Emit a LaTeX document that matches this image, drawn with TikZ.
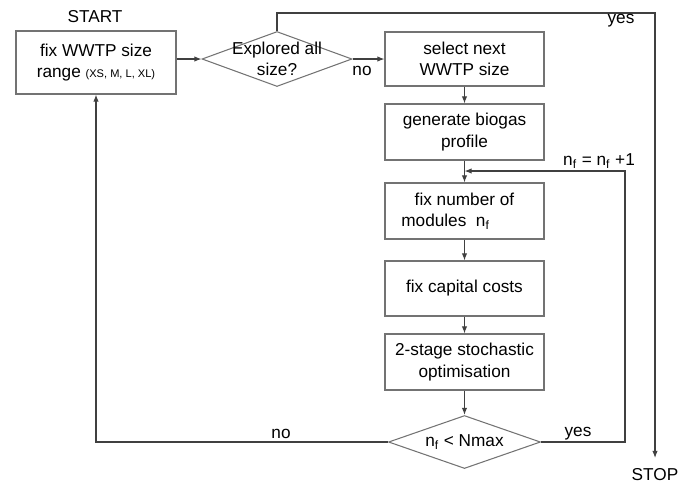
\documentclass[tikz,border=0pt]{standalone}
\usepackage{fontspec}
\setmainfont{Liberation Sans}
\usetikzlibrary{arrows.meta,shapes.geometric}
\tikzset{
	stage/.style={draw=black!55, line width=0.6pt, minimum width=3.18cm, minimum height=1.12cm, align=center, inner sep=2pt},
	check/.style={draw=black!55, line width=0.6pt, shape=diamond, aspect=2.8, inner sep=-5pt, minimum width=3.04cm, minimum height=1.06cm, align=center},
	flow/.style={draw=black!75, line width=0.6pt, -{Latex[length=4pt,width=3pt]}},
	tag/.style={inner sep=1pt}
}
\def\nf{n\textsubscript{f}}

\begin{document}
\begin{tikzpicture}[x=0.02cm, y=-0.02cm, font=\fontsize{9.8}{12}\selectfont]
		%%%%% START %%%%%
		\useasboundingbox (0, 0) rectangle (686, 485);
		
		\node[tag] (start) at (95, 17) {START};
		\node[stage, minimum width=3.2cm, minimum height=1.26cm] (range) at (96, 62.5) {fix WWTP size\\range {\fontsize{6.3}{7}\selectfont(XS, M, L, XL)}};
		\node[check, aspect=2.7, minimum width=3cm, minimum height=1.1cm] (explored) at (277, 59) {Explored all\\size?};
		
		\node[stage, minimum height=1.08cm] (select) at (464.5, 59) {select next\\WWTP size};
		\node[stage] (generate) at (464.5, 132) {generate biogas\\profile};
		\node[stage] (fixnum) at (464.5, 211) {fix number of\\modules~~\nf\hspace*{2.2em}};
		\node[stage, minimum height=1.1cm] (capital) at (464.5, 288.5) {fix capital costs};
		\node[stage] (stochastic) at (464.5, 362) {2-stage stochastic\\optimisation};
		\node[check] (limit) at (464.5, 442) {\nf{} < Nmax};
		
		\node[tag, anchor=north, inner ysep=5.5pt] (stop) at (655, 458) {STOP};
		\coordinate (exit) at (655, 13);
		\coordinate (loop) at (625, 171);
		
		% main line
		\draw[flow] (explored.west -| range.east) -- (explored.west);
		\draw[flow] (explored.east) -- (select.west);
		\draw[flow] (select) -- (generate);
		\draw[flow] (generate) -- (fixnum);
		\draw[flow] (fixnum) -- (capital);
		\draw[flow] (capital) -- (stochastic);
		\draw[flow] (stochastic) -- (limit);
		
		% loops back
		\draw[flow] (limit.east) -| (loop) -- (loop -| fixnum.north);
		\draw[flow] (limit.west) -| (range.south);
		\draw[flow] (explored.north) |- (exit) -- (stop.north);
		
		\node[tag] (noselect) at (362, 71) {no};
		\node[tag] (yesexit) at (621, 21) {yes};
		\node[tag] (next) at (599, 161) {\nf{} = \nf{} +1};
		\node[tag] (yesloop) at (578, 434) {yes};
		\node[tag] (noback) at (281, 434) {no};
		%%%%% END %%%%%
	\end{tikzpicture}
\end{document}
